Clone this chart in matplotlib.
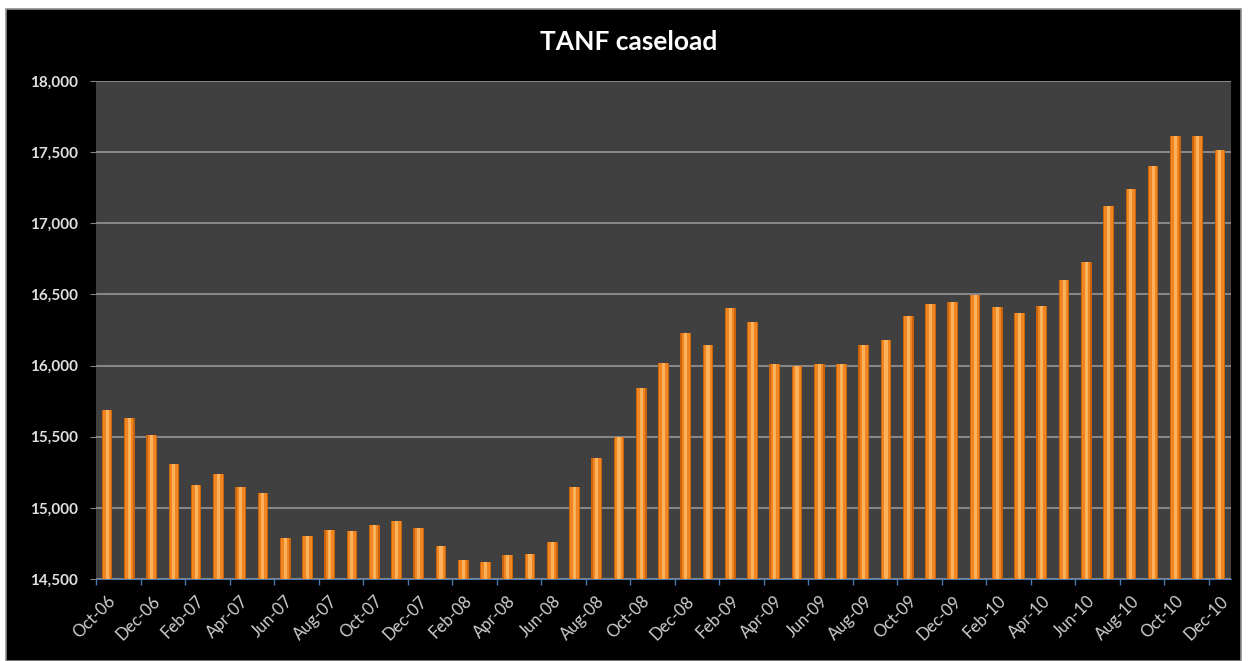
import numpy as np
import matplotlib.pyplot as plt
from matplotlib.patches import Rectangle
from matplotlib.ticker import FuncFormatter, FixedLocator

# Données (TANF caseload, Oct-06 .. Dec-10)
months = ['Oct-06', 'Nov-06', 'Dec-06',
          'Jan-07', 'Feb-07', 'Mar-07', 'Apr-07', 'May-07', 'Jun-07',
          'Jul-07', 'Aug-07', 'Sep-07', 'Oct-07', 'Nov-07', 'Dec-07',
          'Jan-08', 'Feb-08', 'Mar-08', 'Apr-08', 'May-08', 'Jun-08',
          'Jul-08', 'Aug-08', 'Sep-08', 'Oct-08', 'Nov-08', 'Dec-08',
          'Jan-09', 'Feb-09', 'Mar-09', 'Apr-09', 'May-09', 'Jun-09',
          'Jul-09', 'Aug-09', 'Sep-09', 'Oct-09', 'Nov-09', 'Dec-09',
          'Jan-10', 'Feb-10', 'Mar-10', 'Apr-10', 'May-10', 'Jun-10',
          'Jul-10', 'Aug-10', 'Sep-10', 'Oct-10', 'Nov-10', 'Dec-10']
caseload = [15685, 15635, 15510,
            15307, 15160, 15235, 15148, 15106, 14790,
            14800, 14844, 14837, 14879, 14909, 14858,
            14734, 14633, 14617, 14668, 14673, 14762,
            15148, 15352, 15495, 15839, 16021, 16229,
            16143, 16402, 16306, 16014, 15995, 16014,
            16014, 16147, 16178, 16346, 16430, 16447,
            16494, 16412, 16370, 16419, 16604, 16728,
            17125, 17238, 17402, 17610, 17610, 17516]
y_ticks = [14500, 15000, 15500, 16000, 16500, 17000, 17500, 18000]

plt.rcParams['font.family'] = ['Lato', 'DejaVu Sans']

fig = plt.figure(figsize=(12.48, 6.61), dpi=100, facecolor='white')

# fond noir du graphique (coupé en haut par la diapo)
fig.patches.append(Rectangle((6 / 1248, 0), 1235 / 1248, 652 / 661,
                             transform=fig.transFigure, facecolor='black',
                             edgecolor='#909090', linewidth=1.2, zorder=-10))

ax = fig.add_axes([96 / 1248, 82 / 661, 1135 / 1248, 498 / 661])
ax.set_facecolor('#404040')

x = np.arange(len(months))
# barres "cylindre" : plusieurs couches pour simuler le dégradé
ax.bar(x, caseload, width=0.48, color='#c8640c', zorder=3)
ax.bar(x, caseload, width=0.37, color='#ef8621', zorder=4)
ax.bar(x, caseload, width=0.14, color='#fbb25a', zorder=5)

ax.set_ylim(14500, 18000)
ax.set_xlim(-0.5, len(months) - 0.5)
ax.set_yticks(y_ticks)
ax.yaxis.set_major_formatter(FuncFormatter(lambda v, p: f'{int(v):,}'))
ax.grid(axis='y', color='#8a8a8a', linewidth=1.4, zorder=1)

ax.set_xticks(x[::2])
ax.set_xticklabels(months[::2], rotation=45, ha='right',
                   rotation_mode='anchor', color='#cfcfcf', fontsize=12)
ax.xaxis.set_minor_locator(FixedLocator(np.arange(-0.5, len(months), 2)))
ax.tick_params(axis='x', which='major', length=0, pad=10)
ax.tick_params(axis='x', which='minor', length=4, color='#4a78b0', width=1)
ax.tick_params(axis='y', length=4, color='#808080', labelcolor='#e0e0e0',
               labelsize=11, pad=9)
for lab in ax.get_yticklabels():
    lab.set_fontweight('bold')

for side in ['top', 'right', 'left']:
    ax.spines[side].set_visible(False)
ax.spines['bottom'].set_color('#4a78b0')

fig.text(629 / 1248, 1 - 42 / 661, 'TANF caseload', color='white',
         fontsize=19, fontweight='bold', ha='center', va='center')

fig.savefig('out.png', dpi=100, facecolor='white')
